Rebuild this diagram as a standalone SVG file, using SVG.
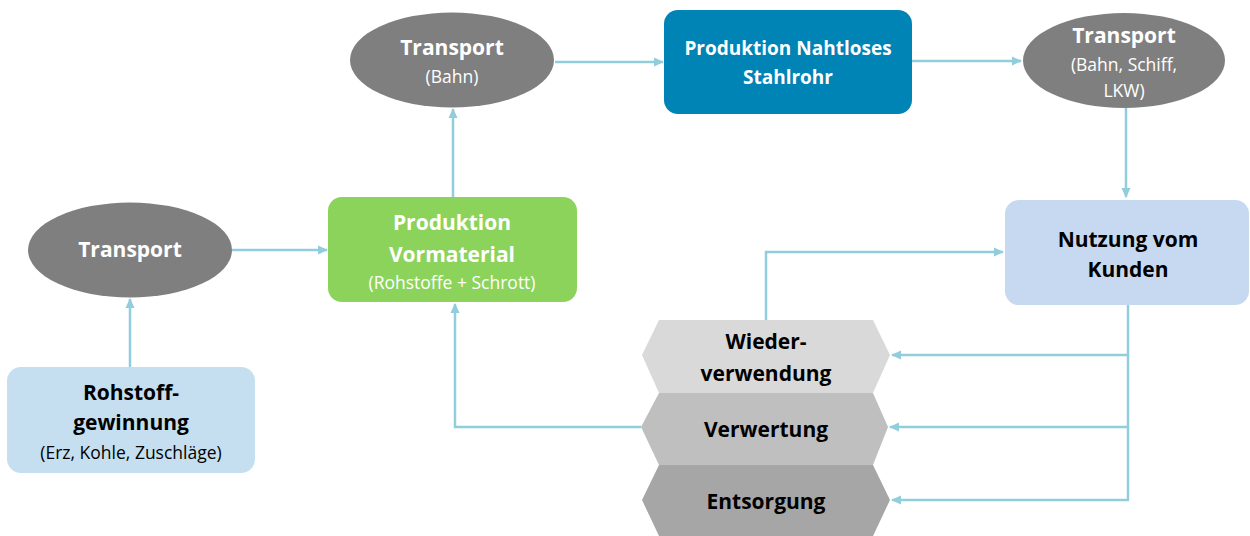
<svg xmlns="http://www.w3.org/2000/svg" width="1250" height="536" viewBox="0 0 1250 536">
<defs>
<marker id="ah" markerWidth="10" markerHeight="10" refX="9" refY="5" orient="auto" markerUnits="userSpaceOnUse">
<path d="M0,0.5 L10,5 L0,9.5 Z" fill="#92cddc"/>
</marker>
<style>
.t{font-family:"Open Sans","Liberation Sans",sans-serif;text-anchor:middle;font-variant-ligatures:none}
.b{font-weight:bold}
.w{fill:#ffffff}
.k{fill:#000000}
.s{font-size:17.5px}
.l{font-size:21px}
.m{font-size:19px}
.c{fill:none;stroke:#92cddc;stroke-width:2.5}
</style>
</defs>
<rect width="1250" height="536" fill="#ffffff"/>
<g id="connectors">
<path class="c" d="M130,367 V299" marker-end="url(#ah)"/>
<path class="c" d="M232,250 H327" marker-end="url(#ah)"/>
<path class="c" d="M453,197 V109" marker-end="url(#ah)"/>
<path class="c" d="M555,62 H663" marker-end="url(#ah)"/>
<path class="c" d="M912,61 H1021" marker-end="url(#ah)"/>
<path class="c" d="M1126,108 V197" marker-end="url(#ah)"/>
<path class="c" d="M766,320 V252 H1003" marker-end="url(#ah)"/>
<path class="c" d="M641,427 H455 V304" marker-end="url(#ah)"/>
<path class="c" d="M1128,305 V500"/>
<path class="c" d="M1129,355 H892" marker-end="url(#ah)"/>
<path class="c" d="M1129,427 H890" marker-end="url(#ah)"/>
<path class="c" d="M1129,500 H892" marker-end="url(#ah)"/>
</g>
<g id="rohstoff">
<rect x="7" y="367" width="248" height="106" rx="14" fill="#c5dff0"/>
<text class="t b k l" x="131" y="400">Rohstoff-</text>
<text class="t b k l" x="131" y="430">gewinnung</text>
<text class="t k s" x="131" y="459">(Erz, Kohle, Zuschläge)</text>
</g>
<g id="transport1">
<ellipse cx="130" cy="250" rx="102" ry="47.5" fill="#7f7f7f"/>
<text class="t b w l" x="130" y="257">Transport</text>
</g>
<g id="vormaterial">
<rect x="328" y="197" width="249" height="105" rx="14" fill="#8bd35b"/>
<text class="t b w l" x="452" y="230">Produktion</text>
<text class="t b w l" x="452" y="262">Vormaterial</text>
<text class="t w s" x="452" y="289">(Rohstoffe + Schrott)</text>
</g>
<g id="transport2">
<ellipse cx="452" cy="60" rx="102" ry="47.5" fill="#7f7f7f"/>
<text class="t b w l" x="452" y="55">Transport</text>
<text class="t w s" x="452" y="83">(Bahn)</text>
</g>
<g id="stahlrohr">
<rect x="664" y="10" width="248" height="104" rx="14" fill="#0083b5"/>
<text class="t b w m" x="788" y="55">Produktion Nahtloses</text>
<text class="t b w m" x="788" y="84">Stahlrohr</text>
</g>
<g id="transport3">
<ellipse cx="1124" cy="60.5" rx="101" ry="47.5" fill="#7f7f7f"/>
<text class="t b w l" x="1124" y="43">Transport</text>
<text class="t w s" x="1124" y="71">(Bahn, Schiff,</text>
<text class="t w s" x="1124" y="97">LKW)</text>
</g>
<g id="nutzung">
<rect x="1005" y="200" width="244" height="105" rx="14" fill="#c6d9f0"/>
<text class="t b k l" x="1128" y="247">Nutzung vom</text>
<text class="t b k l" x="1128" y="277">Kunden</text>
</g>
<g id="wiederverwendung">
<polygon points="659,320 873,320 890,355 873,393 659,393 642,355" fill="#d9d9d9"/>
<text class="t b k l" x="766" y="349">Wieder-</text>
<text class="t b k l" x="766" y="381">verwendung</text>
</g>
<g id="verwertung">
<polygon points="659,393 873,393 888,427 873,465 659,465 641,427" fill="#bfbfbf"/>
<text class="t b k l" x="766" y="437">Verwertung</text>
</g>
<g id="entsorgung">
<polygon points="659,465 873,465 890,500 873,536 659,536 642,500" fill="#a6a6a6"/>
<text class="t b k l" x="766" y="509">Entsorgung</text>
</g>
</svg>
